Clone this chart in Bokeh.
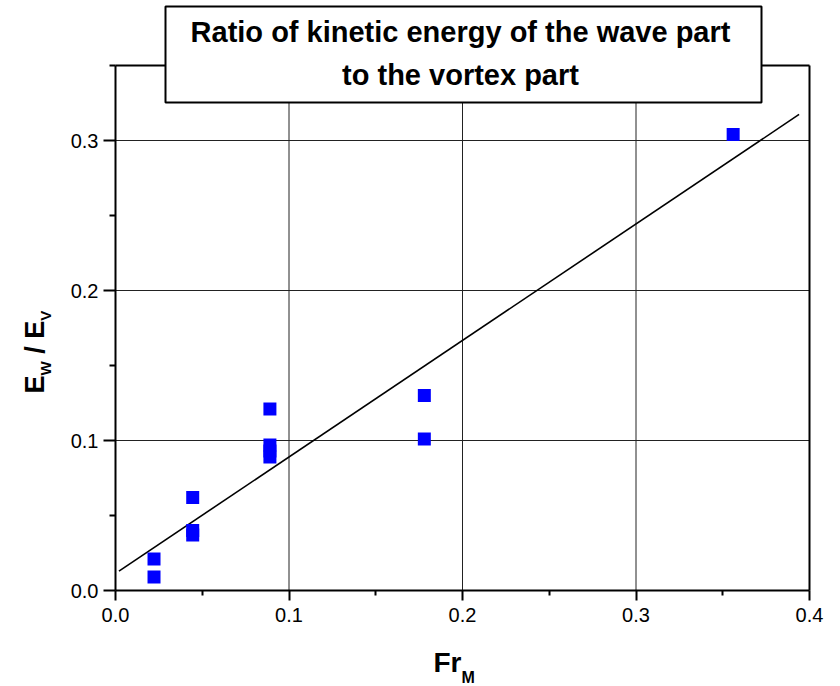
import numpy as np
from bokeh.plotting import figure
from bokeh.models import Range1d, Label, BoxAnnotation, FixedTicker, LinearAxis
from bokeh.embed import file_html
from bokeh.resources import INLINE

# ---------------- data ----------------
fr_m = [0.0222, 0.0222, 0.0445, 0.0445, 0.0445, 0.089, 0.089, 0.089, 0.089, 0.178, 0.178, 0.356]
ew_ev = [0.021, 0.009, 0.062, 0.040, 0.037, 0.121, 0.097, 0.093, 0.089, 0.130, 0.101, 0.304]
fit_x_ends = [0.002, 0.394]

x_ticks = [0.0, 0.1, 0.2, 0.3, 0.4]
x_tick_labels = ["0.0", "0.1", "0.2", "0.3", "0.4"]
x_minor_ticks = [0.05, 0.15, 0.25, 0.35]
y_ticks = [0.0, 0.1, 0.2, 0.3]
y_tick_labels = ["0.0", "0.1", "0.2", "0.3"]
y_minor_ticks = [0.05, 0.15, 0.25, 0.35]

title_lines = ["Ratio of kinetic energy of the wave part", "to the vortex part"]

# linear fit of the points (as drawn in the reference)
slope, intercept = np.polyfit(fr_m, ew_ev, 1)
fit_y_ends = [intercept + slope * v for v in fit_x_ends]

# ---------------- layout ----------------
W, H = 840, 686
FRAME_L, FRAME_R, FRAME_T, FRAME_B = 115, 809, 65, 590   # plot box in page pixels
X0, X1, Y0, Y1 = 0.0, 0.4, 0.0, 0.35                      # plot box in data units
XPP = (X1 - X0) / (FRAME_R - FRAME_L)
YPP = (Y1 - Y0) / (FRAME_B - FRAME_T)


def dx(px):
    return X0 + (px - FRAME_L) * XPP


def dy(py):
    return Y0 + (FRAME_B - py) * YPP


FONT = "Liberation Sans"

# the drawing area spans the whole page so that the title box and the
# axis titles (outside the plot box) are not clipped
p = figure(width=W, height=H,
           x_range=Range1d(dx(0), dx(W)), y_range=Range1d(dy(H), dy(0)),
           output_backend="svg", toolbar_location=None,
           min_border_left=0, min_border_right=0, min_border_top=0, min_border_bottom=0)
p.background_fill_color = "white"
p.border_fill_color = "white"
p.outline_line_color = None
p.xgrid.visible = False
p.ygrid.visible = False

# grid lines inside the plot box
gx = [t for t in x_ticks if X0 < t < X1]
gy = [t for t in y_ticks if Y0 < t < Y1]
p.segment(x0=gx, y0=[Y0] * len(gx), x1=gx, y1=[Y1] * len(gx),
          line_color="#222222", line_width=1, level="underlay")
p.segment(x0=[X0] * len(gy), y0=gy, x1=[X1] * len(gy), y1=gy,
          line_color="#222222", line_width=1, level="underlay")

# axes
xa, ya = p.xaxis[0], p.yaxis[0]
xa.fixed_location = Y0
ya.fixed_location = X0
xa.bounds = (X0, X1)
ya.bounds = (Y0, Y1)
for ax, ticks, minors, labels, tick_out, minor_out, standoff in (
        (xa, x_ticks, x_minor_ticks, x_tick_labels, 10, 5, 7),
        (ya, y_ticks, y_minor_ticks, y_tick_labels, 12, 6, 5)):
    ax.ticker = FixedTicker(ticks=ticks, minor_ticks=minors)
    ax.major_label_overrides = {t: l for t, l in zip(ticks, labels)}
    ax.axis_line_color = "black"
    ax.axis_line_width = 2
    ax.major_tick_line_color = "black"
    ax.major_tick_line_width = 2
    ax.minor_tick_line_color = "black"
    ax.minor_tick_line_width = 2
    ax.major_tick_in = 0
    ax.major_tick_out = tick_out
    ax.minor_tick_in = 0
    ax.minor_tick_out = minor_out
    ax.major_label_text_font = FONT
    ax.major_label_text_font_size = "20px"
    ax.major_label_text_color = "black"
    ax.major_label_standoff = standoff

# top and right edges of the plot box (plain axis lines, no ticks)
for loc, fixed, bnds in (("above", Y1, (X0, X1)), ("right", X1, (Y0, Y1))):
    edge = LinearAxis(fixed_location=fixed, bounds=bnds, ticker=FixedTicker(ticks=[]),
                      axis_line_color="black", axis_line_width=2,
                      major_tick_out=0, major_tick_in=0, minor_tick_out=0, minor_tick_in=0,
                      major_label_text_font_size="0px")
    p.add_layout(edge, loc)

# fit line and points
p.line(fit_x_ends, fit_y_ends, line_color="black", line_width=1.6)
p.scatter(fr_m, ew_ev, marker="square", size=13, fill_color="#0000ff",
          line_color="#0000ff", line_width=0)

# title box
box = BoxAnnotation(left=dx(165), right=dx(761), top=dy(6), bottom=dy(102),
                    fill_color="white", fill_alpha=1.0, line_color="black",
                    line_width=2, line_alpha=1.0, level="overlay")
p.add_layout(box)
for line, mid in zip(title_lines, (31, 74)):
    p.add_layout(Label(x=dx(460), y=dy(mid), text=line, text_align="center",
                       text_baseline="middle", text_font=FONT,
                       text_font_size="29px", text_font_style="bold",
                       text_color="black", level="overlay"))

# x axis title  Fr_M
p.add_layout(Label(x=dx(433), y=dy(662), text="Fr", text_align="left",
                   text_baseline="middle", text_font=FONT, text_font_size="28px",
                   text_font_style="bold", text_color="black"))
p.add_layout(Label(x=dx(461), y=dy(677), text="M", text_align="left",
                   text_baseline="middle", text_font=FONT, text_font_size="16px",
                   text_font_style="bold", text_color="black"))

# y axis title  E_W / E_V (rotated, reads bottom to top)
MAIN, SUB = 27, 15
adv = {"E": 0.667, "W": 0.944, "V": 0.667, " ": 0.278, "/": 0.278}
# (text, font size, centre line x in page pixels, space before in em of main font)
pieces = [("E", MAIN, 34, 0), ("W", SUB, 45, 0), ("/", MAIN, 34, 1), ("E", MAIN, 34, 1),
          ("V", SUB, 45, 0)]
ypos = 393.0
for txt, size, mid_x, gap in pieces:
    ypos -= gap * adv[" "] * MAIN
    p.add_layout(Label(x=dx(mid_x), y=dy(ypos), text=txt, angle=np.pi / 2,
                       text_align="left", text_baseline="middle",
                       text_font=FONT, text_font_size=f"{size}px",
                       text_font_style="bold", text_color="black"))
    ypos -= sum(adv[c] for c in txt) * size

open("out.html", "w").write(file_html(p, INLINE))
